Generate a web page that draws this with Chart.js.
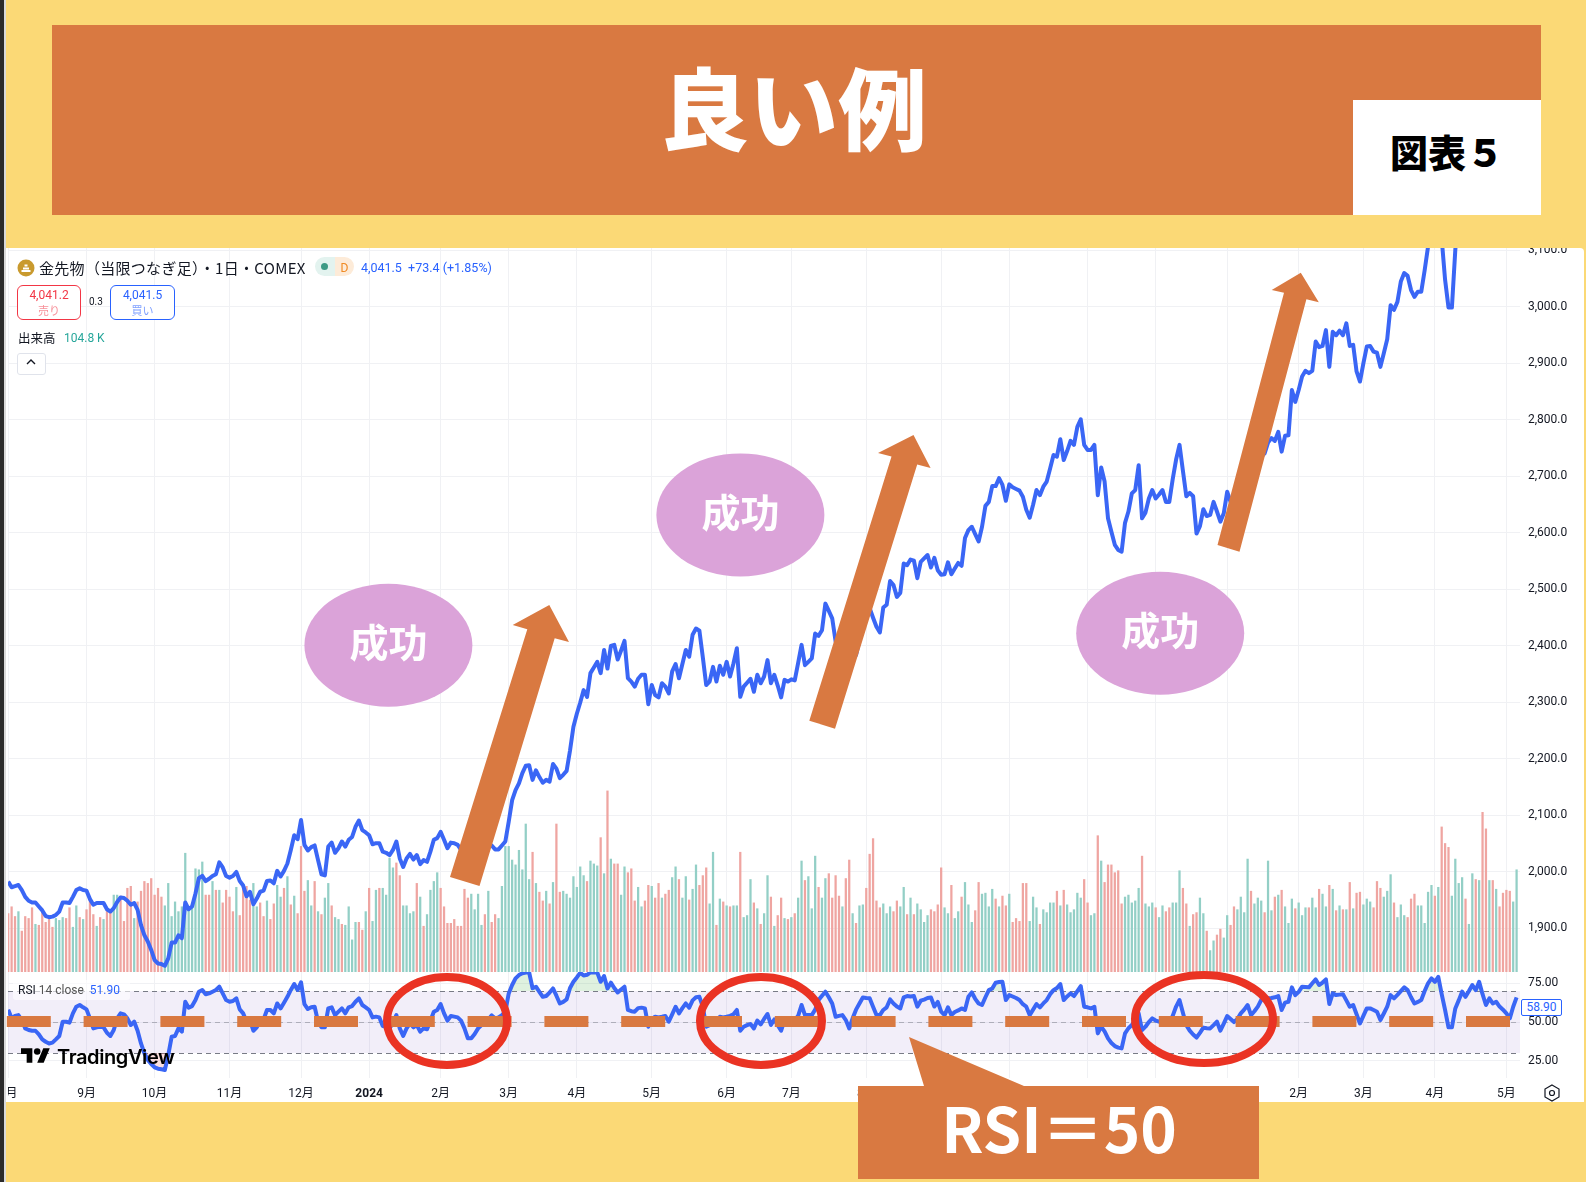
<!DOCTYPE html>
<html lang="ja">
<head>
<meta charset="utf-8">
<title>良い例</title>
<script src="https://cdn.jsdelivr.net/npm/chart.js@4"></script>
<style>
  html, body { margin: 0; padding: 0; }
  body { width: 1586px; height: 1182px; position: relative; overflow: hidden; background: #FBD976; font-family: "Noto Sans CJK JP", sans-serif; color: #131722; }
  .abs { position: absolute; white-space: nowrap; }
  canvas { position: absolute; }
  #panel { left: 6px; top: 248px; width: 1578px; height: 854px; background: #fff; border-radius: 0 4px 0 0; }
  #strip { left: 0; top: 0; width: 4px; height: 1182px; background: #2B2B2B; border-right: 2px solid #D9D9D9; }
  #banner { left: 52px; top: 25px; width: 1489px; height: 190px; background: #D97941; }
  #title { left: 49px; top: 45px; width: 1489px; text-align: center; font-size: 89px; font-weight: 900; line-height: 120px; color: #fff; }
  #fig { left: 1353px; top: 100px; width: 188px; height: 115px; background: #fff; text-align: center; font-size: 38px; font-weight: 900; line-height: 102px; color: #000; }
  #overlay { position: absolute; left: 0; top: 0; }
  .btn { border-radius: 6px; background: #fff; text-align: center; font-size: 12px; line-height: 15px; box-sizing: border-box; padding-top: 2px; font-family: Roboto, "Noto Sans CJK JP"; }
  .btn small { display: block; font-size: 11px; line-height: 15px; font-family: "Noto Sans CJK JP"; }
</style>
</head>
<body>
<div class="abs" id="strip"></div>
<div class="abs" id="banner"></div>
<div class="abs" id="title">良い例</div>
<div class="abs" id="fig">図表５</div>
<div class="abs" id="panel"></div>

<canvas id="mainChart" style="left:8px;top:248px"></canvas>
<canvas id="rsiChart" style="left:8px;top:972px"></canvas>

<!-- TradingView の凡例 -->
<svg class="abs" style="left:17px;top:259px" width="18" height="18"><circle cx="9" cy="9" r="8.5" fill="#C99A2E"/><path d="M4.5 12h9M6 9.5h6M7.5 6.5h3" stroke="#fff" stroke-width="1.8"/></svg>
<div class="abs" style="left:39px;top:257px;font-size:15px;line-height:22px;letter-spacing:0.3px">金先物（当限つなぎ足）・1日・COMEX</div>
<div class="abs" style="left:315px;top:257px;width:20px;height:19px;background:#E3F3EF;border-radius:10px 0 0 10px"></div>
<div class="abs" style="left:335px;top:257px;width:19px;height:19px;background:#FDEBD8;border-radius:0 10px 10px 0;color:#F08A24;font-size:12px;line-height:19px;text-align:center">D</div>
<div class="abs" style="left:321px;top:263px;width:7px;height:7px;border-radius:50%;background:#3D9A85"></div>
<div class="abs" style="left:361px;top:259px;font:12.5px/18px Roboto;color:#2962FF">4,041.5&nbsp; +73.4 (+1.85%)</div>
<div class="abs btn" style="left:17px;top:285px;width:64px;height:35px;border:1px solid #F23645;color:#F23645">4,041.2<small style="color:#F7919A">売り</small></div>
<div class="abs" style="left:89px;top:295px;font:10px/14px Roboto">0.3</div>
<div class="abs btn" style="left:110px;top:285px;width:65px;height:35px;border:1px solid #2962FF;color:#2962FF">4,041.5<small style="color:#7FA0FF">買い</small></div>
<div class="abs" style="left:18px;top:329px;font-size:12.5px;line-height:18px">出来高</div>
<div class="abs" style="left:64px;top:329px;font:12px/18px Roboto;color:#26A69A">104.8 K</div>
<div class="abs" style="left:17px;top:353px;width:27px;height:20px;border:1px solid #E0E3EB;border-radius:3px;background:#fff"></div>
<svg class="abs" style="left:25px;top:358px" width="12" height="8"><path d="M2 6l4-4 4 4" fill="none" stroke="#131722" stroke-width="1.4"/></svg>

<!-- RSI の凡例 -->
<div class="abs" style="left:13px;top:980px;width:117px;height:20px;background:rgba(255,255,255,.6);border-radius:3px"></div>
<div class="abs" style="left:18px;top:981px;font:12px/18px Roboto;color:#555"><span style="color:#131722">RSI</span> 14 close &nbsp;<span style="color:#2962FF">51.90</span></div>
<div class="abs" style="left:1521px;top:999px;width:41px;height:17px;box-sizing:border-box;border:1px solid #2962FF;border-radius:2px;background:#fff;color:#2962FF;font:12px/15px Roboto;text-align:center">58.90</div>

<svg id="overlay" width="1586" height="1182">
  <!-- RSI=50 の破線 -->
  <line x1="6.8" y1="1021.5" x2="1510" y2="1021.5" stroke="#D97941" stroke-width="11" stroke-dasharray="44 32.8"/>
  <!-- TradingView ロゴ -->
  <g transform="translate(21,1045) scale(0.81)" fill="#000"><path d="M14 22H7V11H0V4h14v18zM28 22h-8l7.5-18h8L28 22z"/><circle cx="20" cy="8" r="4"/></g>
  <text x="57" y="1064" font-family="Inter" font-weight="600" font-size="20" letter-spacing="-0.4" fill="#000">TradingView</text>
  <polygon points="1552,1085 1559,1089 1559,1097 1552,1101 1545,1097 1545,1089" fill="none" stroke="#131722" stroke-width="1.2"/>
  <circle cx="1552" cy="1093" r="2.5" fill="none" stroke="#131722" stroke-width="1.2"/>
  <!-- 赤丸 -->
  <g fill="none" stroke="#EA3323" stroke-width="8">
    <ellipse cx="447" cy="1021" rx="60" ry="44"/>
    <ellipse cx="761" cy="1021" rx="61" ry="44"/>
    <ellipse cx="1204" cy="1019" rx="69" ry="44"/>
  </g>
  <!-- 矢印 -->
  <g fill="#D97941">
    <polygon points="450,877 527.3,629.3 512.7,625 549.3,605 569,642 554.7,638.3 479.5,886"/>
    <polygon points="809.3,720.7 891.5,456.5 878,453 913.5,435 930.6,468 917.2,464.5 835,728.7"/>
    <polygon points="1217.5,545 1284,292.7 1271.7,290 1300.8,272.7 1318.8,302.3 1306.4,299.3 1239.5,551.7"/>
  </g>
  <!-- 成功 -->
  <g fill="#DBA3D9">
    <ellipse cx="388.4" cy="645.3" rx="84" ry="61.5"/>
    <ellipse cx="740.4" cy="514.9" rx="84" ry="61.5"/>
    <ellipse cx="1160.2" cy="633.2" rx="84" ry="61.5"/>
  </g>
  <g fill="#fff" font-family="Noto Sans CJK JP" font-weight="700" font-size="39" text-anchor="middle">
    <text x="388.4" y="657">成功</text>
    <text x="740.4" y="527">成功</text>
    <text x="1160.2" y="645">成功</text>
  </g>
  <!-- 吹き出し -->
  <polygon points="858,1086 924,1086 909,1037 1024,1086 1259,1086 1259,1179 858,1179" fill="#D97941"/>
  <text x="1059" y="1153" fill="#fff" font-family="Noto Sans CJK JP" font-weight="700" font-size="62" text-anchor="middle">RSI＝50</text>
</svg>

<script>
// 価格(終値)
const closes = [
  1983,1973,1975,1977,1968,1956,1949,1946,1946,1939,
  1932,1922,1920,1921,1924,1930,1946,1946,1945,1956,
  1968,1971,1968,1967,1952,1942,1945,1945,1945,1934,
  1930,1936,1947,1955,1954,1949,1942,1945,1933,1906,
  1888,1877,1862,1844,1838,1837,1834,1847,1875,1875,
  1888,1883,1946,1934,1939,1962,1989,1993,1984,1988,
  1993,1996,2017,2008,1993,1990,1993,2000,1984,1976,
  1957,1965,1943,1953,1965,1967,1984,1985,1980,2002,
  1992,2002,2015,2039,2065,2058,2092,2048,2038,2044,
  2047,2021,1996,1994,2045,2052,2034,2042,2054,2045,
  2057,2062,2080,2091,2074,2070,2065,2049,2051,2051,
  2036,2034,2030,2039,2054,2024,2009,2024,2032,2022,
  2030,2014,2021,2018,2036,2057,2060,2071,2057,2042,
  2052,2051,2048,2039,2026,2012,2011,2018,2030,2036,
  2042,2048,2047,2040,2040,2047,2054,2089,2127,2145,
  2157,2175,2188,2189,2163,2180,2168,2158,2163,2160,
  2191,2183,2166,2172,2179,2215,2257,2280,2300,2322,
  2310,2352,2362,2372,2352,2393,2360,2400,2402,2376,
  2392,2409,2343,2337,2328,2342,2349,2349,2297,2331,
  2313,2309,2334,2328,2316,2355,2368,2343,2368,2393,
  2381,2420,2431,2427,2380,2331,2337,2363,2337,2365,
  2349,2372,2346,2369,2396,2310,2328,2335,2342,2319,
  2349,2334,2346,2375,2334,2349,2330,2309,2340,2337,
  2341,2339,2370,2402,2366,2372,2378,2422,2418,2428,
  2475,2462,2449,2408,2400,2392,2380,2355,2386,2384,
  2410,2440,2455,2467,2450,2434,2424,2468,2473,2515,
  2508,2487,2494,2546,2543,2553,2551,2520,2549,2555,
  2561,2539,2556,2534,2526,2527,2548,2527,2537,2547,
  2542,2591,2605,2611,2598,2585,2611,2648,2655,2683,
  2683,2697,2685,2657,2686,2681,2678,2675,2664,2641,
  2627,2650,2676,2667,2682,2691,2714,2738,2735,2766,
  2729,2745,2763,2756,2788,2801,2756,2747,2747,2756,
  2667,2716,2691,2626,2602,2579,2570,2567,2618,2638,
  2670,2676,2720,2626,2636,2661,2676,2661,2668,2676,
  2655,2655,2695,2730,2756,2710,2665,2671,2665,2599,
  2612,2642,2630,2632,2655,2638,2620,2635,2673,2655,
  2640,2655,2668,2690,2705,2680,2700,2715,2735,2741,
  2760,2768,2763,2779,2744,2772,2773,2853,2832,2853,
  2877,2887,2883,2887,2939,2929,2931,2959,2894,2956,
  2950,2958,2950,2971,2931,2933,2886,2868,2900,2930,
  2931,2921,2919,2894,2918,2943,3003,2995,3009,3045,
  3060,3055,3030,3018,3027,3027,3065,3107,3150,3145,
  3166,3121,3048,2999,2999,3101,3180,3245,3220,3230,
  3240,3340,3345,3330,3425,3400,3295,3350,3345,3300,
  3245,3240,3335,3410
];

// 出来高(K)
const volumes = [
  60,67,57,62,42,57,55,66,49,48,
  62,51,54,46,55,53,56,55,66,46,
  68,56,54,64,74,59,47,56,54,64,
  62,79,79,78,52,86,88,55,72,83,
  93,91,96,79,86,77,68,91,57,72,
  62,67,122,66,67,106,105,113,79,79,
  93,84,84,71,84,77,62,87,58,86,
  88,74,91,67,71,57,73,54,70,89,
  77,86,98,69,78,60,129,83,94,68,
  93,62,59,76,91,68,56,54,49,48,
  67,33,51,51,43,62,86,52,84,86,
  86,79,117,107,112,99,68,68,60,62,
  91,77,47,59,84,93,102,86,67,50,
  50,54,47,47,85,76,80,64,80,48,
  59,83,51,59,55,88,129,129,115,110,
  125,105,152,95,123,91,82,73,83,70,
  92,152,82,83,80,76,98,87,108,99,
  93,114,111,109,138,101,186,116,111,111,
  79,108,102,106,73,87,67,73,89,88,
  76,91,76,80,84,97,108,95,76,98,
  74,85,110,89,99,107,70,123,48,75,
  72,68,67,68,68,123,56,58,95,71,
  65,49,60,99,77,47,58,76,55,54,
  56,60,76,114,94,98,65,119,87,76,
  96,101,76,99,78,67,96,115,60,50,
  68,69,86,121,137,73,66,70,60,67,
  62,73,67,87,59,76,59,70,64,51,
  58,64,62,69,107,66,60,89,55,62,
  77,92,69,51,63,92,80,81,67,85,
  75,67,78,68,80,51,55,52,91,91,
  52,77,66,49,64,61,71,71,83,68,
  84,69,61,64,81,76,95,71,58,60,
  140,114,92,110,110,102,104,70,77,79,
  71,73,86,119,70,67,71,66,56,68,
  62,66,71,71,104,86,70,47,59,61,
  76,60,42,22,32,38,44,35,58,48,
  67,64,77,61,116,83,70,76,73,61,
  114,63,77,79,84,67,50,75,65,71,
  58,66,66,76,66,85,80,67,89,85,
  63,68,64,64,92,65,81,82,69,75,
  72,66,93,86,77,83,100,71,56,69,
  58,56,75,80,68,68,50,82,89,78,
  87,149,132,128,78,116,91,97,75,49,
  101,95,94,164,147,94,94,85,67,81,
  84,83,72,105
];

// 出来高バーの色 r=陰線 g=陽線
const volumeSides = (
  'rrrgrrrrgr' + 'rrrrgggrrg' + 'grgrrrgrgr' + 'rggrrrrgrr' + 'rrrrrrgggg' +
  'ggggggggrr' + 'grgrrrrgrr' + 'rrggrrgrrg' + 'grgrgrrrgg' + 'rgrggrggrg' +
  'gggrrgrggr' + 'ggggrrgggg' + 'rgrggggrrr' + 'rrrrrrgggg' + 'rgrrgggggg' +
  'ggggrgrrgr' + 'grrggggggg' + 'rgggrgrgrr' + 'ggrrrggrrg' + 'rrgrrggrgg' +
  'rggrrrggrg' + 'rgrggrgggr' + 'grggrgrrgr' + 'grggrgggrg' + 'grrrrgrrgr' +
  'ggrrrrrggg' + 'rrggrgrggg' + 'grrrrggrgg' + 'rgggrrgggg' + 'rgrrgrrrrr' +
  'gggrggggrg' + 'rgggggrrgg' + 'rgrrrrrrgg' + 'gggrgggrgg' + 'rrgggrrgrr' +
  'ggrggrrggr' + 'rggggrgggr' + 'ggrgrgggrg' + 'ggrggrggrg' + 'rgrgrgrrgg' +
  'grrrgggrgg' + 'grrrgggggr' + 'grrrggggrg' + 'grgrrgrgrr' + 'rrgg'
).split('');

// RSI(14)
const rsiValues = [
  58,52.4,53.9,54.5,51.3,45.9,44.9,44.4,44.4,42,
  38.8,37.3,36.2,36.7,38.8,41,50.2,50.2,49.6,55.6,
  59.9,61,59.5,58.2,52.4,45.9,46.6,47,46.6,43.1,
  41,44.9,52.4,55.6,55,52.4,48.1,50.2,44.4,36.2,
  29.8,25.5,22.9,20.8,19.9,19.5,19.1,28.7,40.5,41,
  45.9,43.8,63.1,59.3,60.3,64.2,69.6,70.7,67.9,68.5,
  69.6,70.7,72.8,68.5,64.2,63.1,63.6,65.3,58.2,55.6,
  50.2,51.3,44.4,46.6,50.2,51.7,57.8,57.8,55.6,62,
  58.8,62.5,66.3,70.7,74.5,70.7,75.6,61.6,58.4,59.5,
  59.9,50.2,46.6,46.6,58.8,59.5,54.5,56.7,58.8,55.6,
  59.5,60.3,63.1,65.3,61,59.5,57.8,53,53.5,53,
  47.4,47,45.9,49.6,54.5,45.9,41,45.9,49.2,46.6,
  48.1,43.8,45.9,45.3,50.9,56.7,57.8,61.6,55.6,50.9,
  53.9,53.5,53,50.9,45.9,39.5,39.5,42.3,45.9,48.1,
  49.6,51.7,54.3,52.4,53,54.5,56.7,68.5,73.9,78.2,
  80.3,81.5,82,82,71.8,72.8,69.5,66.3,66.8,69,
  71.7,67,62,63,64.6,72,76,78.8,81.8,80,
  80.5,82,82,82,76,79.7,71.7,75.4,72,69.1,
  71,72.8,57.8,57,56.7,59,59.3,58.8,47,52,
  53.5,53,53.4,53.9,50.2,55,59.9,55.6,59,62,
  59.3,64,66,66.3,59.9,47,48,48.5,50,53.4,
  53,53.4,54,55,57.8,44.4,47,48,48.7,45.9,
  50.9,48.5,52,55.2,48.1,51.7,48,44.4,51.3,51,
  51,51.3,54,61,54.5,54.5,54.5,58,64.2,67,
  69.6,66,62,53.4,54,54.5,51.3,45.9,52.4,58,
  62,65.9,65.5,65.3,59.9,54.5,54.5,57.8,59.5,64.6,
  62,60,58.8,66,66.8,66.5,66.8,59.9,63.8,64.5,
  65.5,65.9,60,63,56.7,54.5,59.5,54.5,56.5,57.5,
  58.8,57.8,66.3,69.1,65,62,61,66,70.6,71.7,
  75.4,75.8,76,64.2,67.4,66.5,65.5,64.2,61.5,59.9,
  54.5,58,61.6,59.5,62,64.2,68,70.6,72,74.5,
  64.2,66.5,68.5,66.8,70,73.2,59.9,59.5,58.8,59.9,
  42.7,47,44,39.5,36.5,34.5,33.5,33,42.7,46,
  48.1,51,55.6,44.8,47,50,52.4,51,50.2,52,
  49,50,54,60,64.2,56,48,44.5,42,40,
  43,46.4,46,45.9,48,50.2,44.4,49,53.9,52,
  50,52,55.6,58,61,54.5,57,60,64.2,64.8,
  65.3,65.5,66,66.8,57.8,62.5,63.1,72.4,67.4,69.5,
  72.8,72.6,72.4,75,77.5,73.9,75.5,77.5,61.6,68.5,
  67.4,67.7,68,64,59.9,61,55,49.1,54,58.8,
  58.8,57.8,56.7,51.3,55.5,59.9,67.4,65.3,67.5,70,
  72.4,70.6,66,62,63,64.2,70,75,78.2,76,
  79.2,68,57.8,46.6,46.6,58.8,64,69.6,66.3,70,
  73.9,70.6,76,68,61,65.3,62,63.1,60,58,
  55.6,52.4,59.9,65.9
];

// 月の目盛り(足の番号と表示名)
const monthIndex = [0,23,43,65,86,106,127,147,167,189,211,230,252,274,294,317,337,358,379,398,419,440];
const monthLabels = ['8月','9月','10月','11月','12月','2024','2月','3月','4月','5月','6月','7月','8月','9月','10月','11月','12月','2025','2月','3月','4月','5月'];
const priceTicks = [1900,2000,2100,2200,2300,2400,2500,2600,2700,2800,2900,3000,3100];
const rsiTicks = [25,50,75];

const LINE_BLUE = '#3A66F5';
const GRID = '#F0F1F4';
const FONT = 'Roboto, "Noto Sans CJK JP", sans-serif';
const toPoints = arr => arr.map((y, x) => ({ x, y }));
const noPad = s => { s.paddingLeft = 0; s.paddingRight = 0; s.paddingTop = 0; s.paddingBottom = 0; };
const xRange = { min: -0.06, max: 444 };

function setSize(canvas, w, h) {
    canvas.width = w;
    canvas.height = h;
    canvas.style.width = w + 'px';
    canvas.style.height = h + 'px';
}

function monthTicks(s) {
    s.ticks = monthIndex.map(v => ({ value: v }));
}

setSize(document.getElementById('mainChart'), 1578, 724);
setSize(document.getElementById('rsiChart'), 1578, 130);

new Chart(document.getElementById('mainChart'), {
    type: 'bar',
    data: {
        datasets: [
            {
                type: 'line',
                data: toPoints(closes),
                yAxisID: 'y',
                borderColor: LINE_BLUE,
                borderWidth: 4,
                borderJoinStyle: 'round',
                pointRadius: 0,
                tension: 0,
                order: 0
            },
            {
                type: 'bar',
                data: toPoints(volumes),
                yAxisID: 'yVol',
                backgroundColor: volumeSides.map(s => s === 'g' ? '#93CFC6' : '#EFA5A1'),
                barThickness: 1.6,
                order: 1
            }
        ]
    },
    options: {
        responsive: false,
        animation: false,
        plugins: { legend: { display: false }, tooltip: { enabled: false } },
        layout: { padding: 0 },
        scales: {
            x: {
                type: 'linear',
                offset: false,
                min: xRange.min,
                max: xRange.max,
                afterBuildTicks: monthTicks,
                afterFit: s => { noPad(s); s.height = 0; },
                ticks: { display: false },
                border: { display: false },
                grid: { color: GRID, drawTicks: false, offset: false }
            },
            y: {
                position: 'right',
                min: 1823,
                max: 3104.4,
                afterBuildTicks: s => { s.ticks = priceTicks.map(v => ({ value: v })); },
                afterFit: s => { noPad(s); s.width = 66; },
                ticks: {
                    autoSkip: false,
                    padding: 8,
                    color: '#131722',
                    font: { family: FONT, size: 12 },
                    callback: v => v.toLocaleString('en-US', { minimumFractionDigits: 1 })
                },
                border: { display: false },
                grid: { color: GRID, drawTicks: false }
            },
            yVol: { display: false, min: 0, max: 743.6 }
        }
    }
});

// RSI の 70/30 帯と破線
const rsiBand = {
    id: 'rsiBand',
    beforeDatasetsDraw(chart) {
        const { ctx, chartArea: a, scales: { y } } = chart;
        ctx.save();
        ctx.fillStyle = 'rgba(126,87,194,0.1)';
        ctx.fillRect(a.left, y.getPixelForValue(70), a.width, y.getPixelForValue(30) - y.getPixelForValue(70));
        ctx.lineWidth = 1;
        ctx.setLineDash([5, 4]);
        [[70, '#787B86'], [50, 'rgba(120,123,134,0.5)'], [30, '#787B86']].forEach(([v, c]) => {
            const py = Math.round(y.getPixelForValue(v)) + 0.5;
            ctx.strokeStyle = c;
            ctx.beginPath();
            ctx.moveTo(a.left, py);
            ctx.lineTo(a.right, py);
            ctx.stroke();
        });
        ctx.restore();
    }
};

new Chart(document.getElementById('rsiChart'), {
    type: 'line',
    data: {
        datasets: [
            {
                data: toPoints(rsiValues),
                borderColor: LINE_BLUE,
                borderWidth: 4,
                borderJoinStyle: 'round',
                pointRadius: 0,
                tension: 0,
                fill: { target: { value: 70 }, above: 'rgba(76,175,80,0.18)', below: 'transparent' }
            },
            {
                data: toPoints(rsiValues),
                borderWidth: 0,
                pointRadius: 0,
                fill: { target: { value: 30 }, above: 'transparent', below: 'rgba(239,83,80,0.18)' }
            }
        ]
    },
    options: {
        responsive: false,
        animation: false,
        plugins: { legend: { display: false }, tooltip: { enabled: false } },
        layout: { padding: 0 },
        scales: {
            x: {
                type: 'linear',
                min: xRange.min,
                max: xRange.max,
                afterBuildTicks: monthTicks,
                afterFit: s => { noPad(s); s.height = 24; },
                ticks: {
                    autoSkip: false,
                    maxRotation: 0,
                    padding: 9,
                    color: '#131722',
                    font: ctx => ({ family: FONT, size: 12, weight: ctx.tick && ctx.tick.value === 106 ? 'bold' : 'normal' }),
                    callback: v => monthLabels[monthIndex.indexOf(v)]
                },
                border: { display: false },
                grid: { color: GRID, drawTicks: false }
            },
            y: {
                position: 'right',
                min: 13.9,
                max: 82.3,
                afterBuildTicks: s => { s.ticks = rsiTicks.map(v => ({ value: v })); },
                afterFit: s => { noPad(s); s.width = 66; },
                ticks: {
                    autoSkip: false,
                    padding: 8,
                    color: '#131722',
                    font: { family: FONT, size: 12 },
                    callback: v => v.toFixed(2)
                },
                border: { display: false },
                grid: { color: GRID, drawTicks: false }
            }
        }
    },
    plugins: [rsiBand]
});
</script>
</body>
</html>
